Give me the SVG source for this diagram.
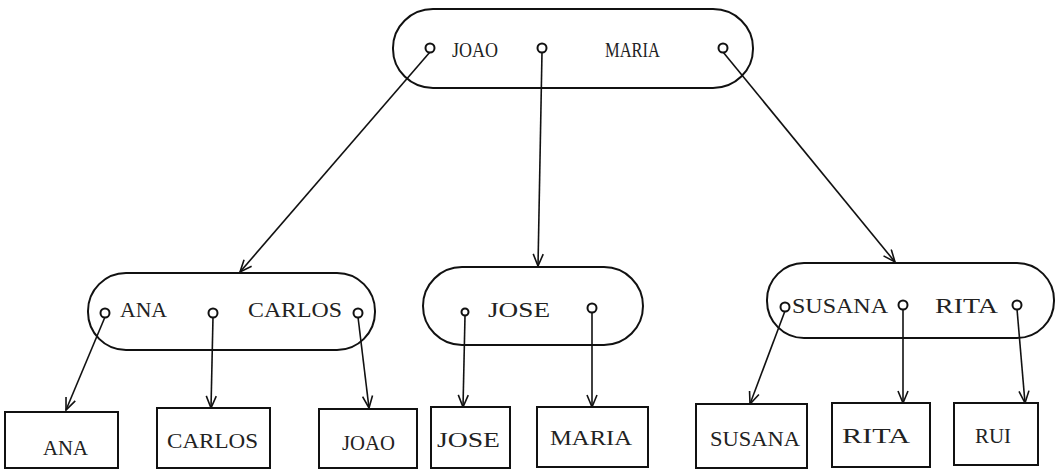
<svg xmlns="http://www.w3.org/2000/svg" width="1056" height="470" viewBox="0 0 1056 470">
<style>
.n{fill:none;stroke:#111;stroke-width:2}
.b{fill:none;stroke:#111;stroke-width:2}
.c{fill:#fff;stroke:#111;stroke-width:2}
.e{stroke:#111;stroke-width:1.6;fill:none}
text{font-family:"Liberation Serif","DejaVu Serif",serif;font-size:22px;fill:#222}
</style>
<defs>
<marker id="a" viewBox="0 0 14 12" refX="13" refY="6" markerWidth="14" markerHeight="12" markerUnits="userSpaceOnUse" orient="auto">
<path d="M1,1 L13,6 L1,11" fill="none" stroke="#111" stroke-width="1.6"/>
</marker>
</defs>
<rect width="1056" height="470" fill="#fff"/>
<g id="connectors">
<line class="e" x1="430" y1="52" x2="240" y2="272" marker-end="url(#a)"/>
<line class="e" x1="542" y1="52" x2="538" y2="266" marker-end="url(#a)"/>
<line class="e" x1="723" y1="52" x2="895" y2="262" marker-end="url(#a)"/>
<line class="e" x1="105" y1="317" x2="66" y2="410" marker-end="url(#a)"/>
<line class="e" x1="213" y1="317" x2="211" y2="408" marker-end="url(#a)"/>
<line class="e" x1="358" y1="317" x2="369" y2="408" marker-end="url(#a)"/>
<line class="e" x1="465" y1="316" x2="463" y2="407" marker-end="url(#a)"/>
<line class="e" x1="592" y1="312" x2="592" y2="407" marker-end="url(#a)"/>
<line class="e" x1="785" y1="311" x2="750" y2="404" marker-end="url(#a)"/>
<line class="e" x1="903" y1="309" x2="903" y2="403" marker-end="url(#a)"/>
<line class="e" x1="1017" y1="309" x2="1025" y2="403" marker-end="url(#a)"/>
</g>
<g id="root">
<rect class="n" x="393" y="9" width="360" height="79" rx="40" ry="39"/>
<circle class="c" cx="430" cy="48" r="4.5"/>
<circle class="c" cx="542" cy="48" r="4.5"/>
<circle class="c" cx="723" cy="48" r="4.5"/>
<text x="452" y="57" textLength="46" lengthAdjust="spacingAndGlyphs">JOAO</text>
<text x="605" y="57" textLength="55" lengthAdjust="spacingAndGlyphs">MARIA</text>
</g>
<g id="node-ana-carlos">
<rect class="n" x="88" y="273" width="287" height="77" rx="38" ry="38"/>
<circle class="c" cx="105" cy="313" r="4.5"/>
<circle class="c" cx="213" cy="313" r="4.5"/>
<circle class="c" cx="358" cy="313" r="4.5"/>
<text x="120" y="317" textLength="47" lengthAdjust="spacingAndGlyphs">ANA</text>
<text x="248" y="317" textLength="94" lengthAdjust="spacingAndGlyphs">CARLOS</text>
</g>
<g id="node-jose">
<rect class="n" x="423" y="267" width="220" height="78" rx="39" ry="39"/>
<circle class="c" cx="465" cy="312" r="3.5"/>
<circle class="c" cx="592" cy="308" r="4.5"/>
<text x="488" y="317" textLength="62" lengthAdjust="spacingAndGlyphs">JOSE</text>
</g>
<g id="node-susana-rita">
<rect class="n" x="767" y="263" width="287" height="75" rx="37" ry="37"/>
<circle class="c" cx="785" cy="307" r="4.5"/>
<circle class="c" cx="903" cy="305" r="4.5"/>
<circle class="c" cx="1017" cy="305" r="4.5"/>
<text x="792" y="313" textLength="96" lengthAdjust="spacingAndGlyphs">SUSANA</text>
<text x="935" y="313" textLength="63" lengthAdjust="spacingAndGlyphs">RITA</text>
</g>
<g id="leaf-ana">
<rect class="b" x="5" y="412" width="113" height="56"/>
<text x="43" y="455" textLength="45" lengthAdjust="spacingAndGlyphs">ANA</text>
</g>
<g id="leaf-carlos">
<rect class="b" x="157" y="408" width="113" height="60"/>
<text x="167" y="448" textLength="91" lengthAdjust="spacingAndGlyphs">CARLOS</text>
</g>
<g id="leaf-joao">
<rect class="b" x="319" y="409" width="98" height="59"/>
<text x="342" y="450" textLength="53" lengthAdjust="spacingAndGlyphs">JOAO</text>
</g>
<g id="leaf-jose">
<rect class="b" x="431" y="407" width="79" height="61"/>
<text x="437" y="447" textLength="63" lengthAdjust="spacingAndGlyphs">JOSE</text>
</g>
<g id="leaf-maria">
<rect class="b" x="537" y="407" width="111" height="60"/>
<text x="550" y="445" textLength="82" lengthAdjust="spacingAndGlyphs">MARIA</text>
</g>
<g id="leaf-susana">
<rect class="b" x="696" y="404" width="111" height="64"/>
<text x="710" y="446" textLength="90" lengthAdjust="spacingAndGlyphs">SUSANA</text>
</g>
<g id="leaf-rita">
<rect class="b" x="832" y="403" width="98" height="64"/>
<text x="842" y="443" textLength="68" lengthAdjust="spacingAndGlyphs">RITA</text>
</g>
<g id="leaf-rui">
<rect class="b" x="954" y="403" width="84" height="62"/>
<text x="975" y="443" textLength="36" lengthAdjust="spacingAndGlyphs">RUI</text>
</g>
</svg>
